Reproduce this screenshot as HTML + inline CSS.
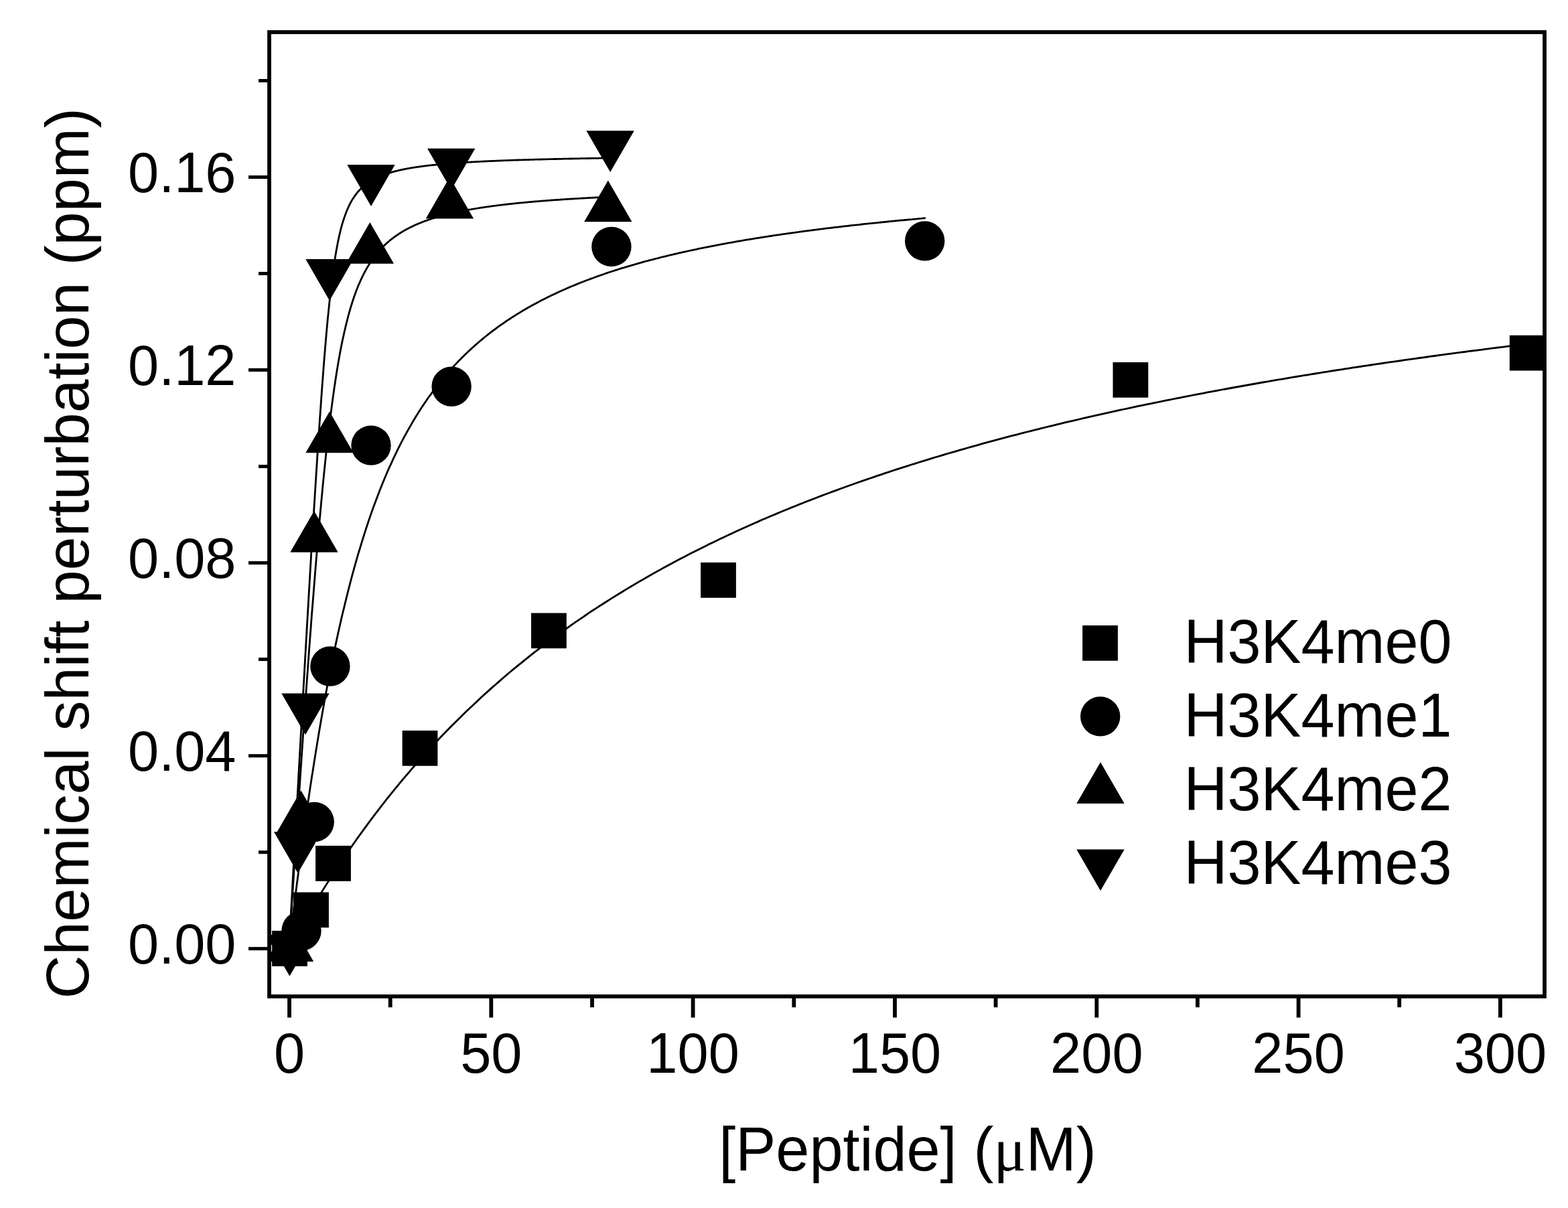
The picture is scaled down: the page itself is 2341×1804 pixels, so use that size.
<!DOCTYPE html>
<html><head><meta charset="utf-8"><style>html,body{margin:0;padding:0;background:#fff}svg{display:block}text{font-family:"Liberation Sans",Arial,sans-serif;fill:#000}</style></head><body>
<svg width="2341" height="1804" viewBox="0 0 2341 1804">
<rect width="2341" height="1804" fill="#fff"/>
<defs><clipPath id="c"><rect x="402" y="48" width="1904" height="1440"/></clipPath></defs>
<g clip-path="url(#c)">
<g fill="none" stroke="#000" stroke-width="2.8" stroke-linejoin="round">
<polyline points="431.6,1415.8 432.2,1404.7 432.8,1393.7 433.4,1382.6 434.0,1371.6 434.6,1360.6 435.2,1349.5 435.8,1338.5 436.4,1327.5 437.0,1316.5 437.6,1305.5 438.2,1294.6 438.8,1283.6 439.4,1272.6 440.0,1261.7 440.6,1250.7 441.2,1239.8 441.8,1228.9 442.4,1218.0 443.0,1207.1 443.7,1196.2 444.3,1185.3 444.9,1174.5 445.5,1163.6 446.1,1152.8 446.7,1142.0 447.3,1131.1 447.9,1120.4 448.5,1109.6 449.1,1098.8 449.7,1088.1 450.3,1077.4 450.9,1066.6 451.5,1055.9 452.1,1045.3 452.7,1034.6 453.3,1024.0 453.9,1013.4 454.5,1002.8 455.1,992.2 455.7,981.7 456.3,971.1 456.9,960.6 457.5,950.2 458.1,939.7 458.7,929.3 459.3,918.9 459.9,908.5 460.5,898.2 461.1,887.9 461.7,877.6 462.3,867.4 462.9,857.2 463.5,847.0 464.1,836.9 464.7,826.8 465.3,816.8 465.9,806.8 466.6,796.8 467.2,786.9 467.8,777.1 468.4,767.2 469.0,757.5 469.6,747.8 470.2,738.1 470.8,728.5 471.4,719.0 472.0,709.5 472.6,700.1 473.2,690.8 473.8,681.5 474.4,672.3 475.0,663.2 475.6,654.2 476.2,645.2 476.8,636.3 477.4,627.5 478.0,618.9 478.6,610.3 479.2,601.8 479.8,593.4 480.4,585.1 481.0,576.9 481.6,568.8 482.2,560.8 482.8,553.0 483.4,545.2 484.0,537.6 484.6,530.2 485.2,522.8 485.8,515.6 486.4,508.5 487.0,501.6 487.6,494.7 488.2,488.1 488.8,481.5 489.4,475.2 490.1,468.9 490.7,462.8 491.3,456.9 491.9,451.1 492.5,445.5 493.1,440.0 493.7,434.6 494.3,429.4 494.9,424.4 495.5,419.4 496.1,414.7 496.7,410.0 497.3,405.6 497.9,401.2 498.5,397.0 499.1,392.9 499.7,388.9 500.3,385.1 500.9,381.4 501.5,377.8 502.1,374.3 502.7,371.0 503.3,367.7 503.9,364.6 504.5,361.5 505.1,358.6 505.7,355.7 506.3,353.0 506.9,350.3 507.5,347.8 508.1,345.3 508.7,342.9 509.3,340.5 509.9,338.3 510.5,336.1 511.1,334.0 511.7,332.0 512.3,330.0 513.0,328.1 513.6,326.2 514.2,324.4 514.8,322.7 515.4,321.0 516.0,319.4 516.6,317.8 517.2,316.3 517.8,314.8 518.4,313.3 519.0,311.9 519.6,310.6 520.2,309.2 520.8,307.9 521.4,306.7 522.0,305.5 522.6,304.3 523.2,303.2 523.8,302.0 524.4,301.0 525.0,299.9 525.6,298.9 526.2,297.9 526.8,296.9 527.4,296.0 528.0,295.0 528.6,294.1 529.2,293.3 529.8,292.4 530.4,291.6 531.0,290.7 531.6,290.0 532.2,289.2 532.8,288.4 533.4,287.7 534.0,287.0 534.6,286.2 535.2,285.6 535.8,284.9 536.5,284.2 537.1,283.6 537.7,283.0 538.3,282.3 538.9,281.7 539.5,281.1 540.1,280.6 540.7,280.0 541.3,279.5 541.9,278.9 542.5,278.4 543.1,277.9 543.7,277.4 544.3,276.9 544.9,276.4 545.5,275.9 546.1,275.4 546.7,275.0 547.3,274.5 547.9,274.1 548.5,273.6 549.1,273.2 549.7,272.8 550.3,272.4 550.9,272.0 551.5,271.6 552.1,271.2 552.7,270.8 553.3,270.4 553.9,270.1 554.5,269.7 555.1,269.3 555.7,269.0 556.3,268.6 556.9,268.3 557.5,268.0 558.1,267.6 558.7,267.3 559.4,267.0 560.0,266.7 560.6,266.4 561.2,266.1 561.8,265.8 562.4,265.5 563.0,265.2 563.6,264.9 564.2,264.7 564.8,264.4 565.4,264.1 566.0,263.8 566.6,263.6 567.2,263.3 567.8,263.1 568.4,262.8 569.0,262.6 569.6,262.3 570.2,262.1 570.8,261.9 571.4,261.6 572.0,261.4 572.6,261.2 573.2,260.9 573.8,260.7 574.4,260.5 575.0,260.3 575.6,260.1 576.2,259.9 576.8,259.7 577.4,259.5 578.0,259.3 578.6,259.1 579.2,258.9 579.8,258.7 580.4,258.5 581.0,258.3 581.6,258.1 582.2,257.9 582.9,257.8 583.5,257.6 584.1,257.4 584.7,257.2 585.3,257.1 585.9,256.9 586.5,256.7 587.1,256.6 587.7,256.4 588.3,256.2 588.9,256.1 589.5,255.9 590.1,255.8 590.7,255.6 591.3,255.5 591.9,255.3 592.5,255.2 593.1,255.0 593.7,254.9 594.3,254.7 594.9,254.6 595.5,254.4 596.1,254.3 596.7,254.2 597.3,254.0 597.9,253.9 598.5,253.8 599.1,253.6 599.7,253.5 600.3,253.4 600.9,253.2 601.5,253.1 602.1,253.0 602.7,252.9 603.3,252.8 603.9,252.6 604.5,252.5 605.1,252.4 605.8,252.3 606.4,252.2 607.0,252.0 607.6,251.9 608.2,251.8 608.8,251.7 609.4,251.6 610.0,251.5 610.6,251.4 611.2,251.3 611.8,251.2 612.4,251.1 613.4,250.9 614.4,250.7 615.4,250.6 616.4,250.4 617.4,250.2 618.4,250.1 619.4,249.9 620.4,249.8 621.4,249.6 622.4,249.5 623.4,249.3 624.4,249.2 625.3,249.0 626.3,248.9 627.3,248.8 628.3,248.6 629.3,248.5 630.3,248.4 631.3,248.2 632.3,248.1 633.3,248.0 634.3,247.8 635.3,247.7 636.3,247.6 637.3,247.5 638.3,247.4 639.3,247.2 640.3,247.1 641.3,247.0 642.3,246.9 643.3,246.8 644.3,246.7 645.3,246.6 646.3,246.5 647.3,246.4 648.3,246.3 649.3,246.2 650.3,246.1 651.3,246.0 652.3,245.9 653.3,245.8 654.3,245.7 655.3,245.6 656.3,245.5 657.3,245.4 658.3,245.3 659.3,245.2 660.3,245.1 661.3,245.0 662.3,244.9 663.3,244.8 664.3,244.8 665.3,244.7 666.3,244.6 667.2,244.5 668.2,244.4 669.2,244.3 670.2,244.3 671.2,244.2 672.2,244.1 673.2,244.0 674.2,243.9 675.2,243.9 676.2,243.8 677.2,243.7 678.2,243.6 679.2,243.6 680.2,243.5 681.2,243.4 682.2,243.4 683.2,243.3 684.2,243.2 685.2,243.1 686.2,243.1 687.2,243.0 688.2,242.9 689.2,242.9 690.2,242.8 691.2,242.8 692.2,242.7 693.2,242.6 694.2,242.6 695.2,242.5 696.2,242.4 697.2,242.4 698.2,242.3 699.2,242.3 700.2,242.2 701.2,242.1 702.2,242.1 703.2,242.0 704.2,242.0 705.2,241.9 706.2,241.9 707.2,241.8 708.2,241.7 709.1,241.7 710.1,241.6 711.1,241.6 712.1,241.5 713.1,241.5 714.1,241.4 715.1,241.4 716.1,241.3 717.1,241.3 718.1,241.2 719.1,241.2 720.1,241.1 721.1,241.1 722.1,241.0 723.1,241.0 724.1,240.9 725.1,240.9 726.1,240.8 727.1,240.8 728.1,240.7 729.1,240.7 730.1,240.7 731.1,240.6 732.1,240.6 733.1,240.5 734.1,240.5 735.1,240.4 736.1,240.4 737.1,240.3 738.1,240.3 739.1,240.3 740.1,240.2 741.1,240.2 742.1,240.1 743.1,240.1 744.1,240.1 745.1,240.0 746.1,240.0 747.1,239.9 748.1,239.9 749.1,239.9 750.1,239.8 751.0,239.8 752.0,239.7 753.0,239.7 754.0,239.7 755.0,239.6 756.0,239.6 757.0,239.6 758.0,239.5 759.0,239.5 760.0,239.5 761.0,239.4 762.0,239.4 763.0,239.3 764.0,239.3 765.0,239.3 766.0,239.2 767.0,239.2 768.0,239.2 769.0,239.1 770.0,239.1 771.0,239.1 772.0,239.0 773.0,239.0 774.0,239.0 775.0,238.9 776.0,238.9 777.0,238.9 778.0,238.9 779.0,238.8 780.0,238.8 781.0,238.8 782.0,238.7 783.0,238.7 784.0,238.7 785.0,238.6 786.0,238.6 787.0,238.6 788.0,238.6 789.0,238.5 790.0,238.5 791.0,238.5 792.0,238.4 792.9,238.4 793.9,238.4 794.9,238.4 795.9,238.3 796.9,238.3 797.9,238.3 798.9,238.2 799.9,238.2 800.9,238.2 801.9,238.2 802.9,238.1 803.9,238.1 804.9,238.1 805.9,238.1 806.9,238.0 807.9,238.0 808.9,238.0 809.9,238.0 810.9,237.9 811.9,237.9 812.9,237.9 813.9,237.9 814.9,237.8 815.9,237.8 816.9,237.8 817.9,237.8 818.9,237.7 819.9,237.7 820.9,237.7 821.9,237.7 822.9,237.6 823.9,237.6 824.9,237.6 825.9,237.6 826.9,237.5 827.9,237.5 828.9,237.5 829.9,237.5 830.9,237.5 831.9,237.4 832.9,237.4 833.9,237.4 834.8,237.4 835.8,237.3 836.8,237.3 837.8,237.3 838.8,237.3 839.8,237.3 840.8,237.2 841.8,237.2 842.8,237.2 843.8,237.2 844.8,237.2 845.8,237.1 846.8,237.1 847.8,237.1 848.8,237.1 849.8,237.0 850.8,237.0 851.8,237.0 852.8,237.0 853.8,237.0 854.8,237.0 855.8,236.9 856.8,236.9 857.8,236.9 858.8,236.9 859.8,236.9 860.8,236.8 861.8,236.8 862.8,236.8 863.8,236.8 864.8,236.8 865.8,236.7 866.8,236.7 867.8,236.7 868.8,236.7 869.8,236.7 870.8,236.7 871.8,236.6 872.8,236.6 873.8,236.6 874.8,236.6 875.8,236.6 876.7,236.5 877.7,236.5 878.7,236.5 879.7,236.5 880.7,236.5 881.7,236.5 882.7,236.4 883.7,236.4 884.7,236.4 885.7,236.4 886.7,236.4 887.7,236.4 888.7,236.3 889.7,236.3 890.7,236.3 891.7,236.3 892.7,236.3 893.7,236.3 894.7,236.2 895.7,236.2 896.7,236.2 897.7,236.2 898.7,236.2 899.7,236.2 900.7,236.2 901.7,236.1 902.7,236.1 903.7,236.1 904.7,236.1 905.7,236.1 906.7,236.1 907.7,236.0 908.7,236.0 909.7,236.0 910.7,236.0"/>
<polyline points="431.6,1415.8 432.2,1406.3 432.8,1396.8 433.4,1387.3 434.0,1377.8 434.6,1368.4 435.2,1358.9 435.8,1349.5 436.4,1340.1 437.0,1330.8 437.6,1321.4 438.2,1312.1 438.8,1302.7 439.4,1293.4 440.0,1284.2 440.6,1274.9 441.2,1265.7 441.8,1256.5 442.4,1247.3 443.0,1238.1 443.7,1229.0 444.3,1219.8 444.9,1210.8 445.5,1201.7 446.1,1192.6 446.7,1183.6 447.3,1174.6 447.9,1165.7 448.5,1156.7 449.1,1147.8 449.7,1138.9 450.3,1130.1 450.9,1121.3 451.5,1112.5 452.1,1103.7 452.7,1095.0 453.3,1086.3 453.9,1077.7 454.5,1069.0 455.1,1060.4 455.7,1051.9 456.3,1043.4 456.9,1034.9 457.5,1026.4 458.1,1018.0 458.7,1009.7 459.3,1001.4 459.9,993.1 460.5,984.8 461.1,976.6 461.7,968.5 462.3,960.4 462.9,952.3 463.5,944.3 464.1,936.3 464.7,928.4 465.3,920.5 465.9,912.7 466.6,904.9 467.2,897.2 467.8,889.5 468.4,881.9 469.0,874.3 469.6,866.8 470.2,859.3 470.8,851.9 471.4,844.6 472.0,837.3 472.6,830.0 473.2,822.9 473.8,815.8 474.4,808.7 475.0,801.7 475.6,794.8 476.2,788.0 476.8,781.2 477.4,774.4 478.0,767.8 478.6,761.2 479.2,754.6 479.8,748.2 480.4,741.8 481.0,735.5 481.6,729.2 482.2,723.0 482.8,716.9 483.4,710.9 484.0,704.9 484.6,699.0 485.2,693.2 485.8,687.4 486.4,681.7 487.0,676.1 487.6,670.6 488.2,665.1 488.8,659.8 489.4,654.4 490.1,649.2 490.7,644.0 491.3,638.9 491.9,633.9 492.5,629.0 493.1,624.1 493.7,619.3 494.3,614.6 494.9,609.9 495.5,605.3 496.1,600.8 496.7,596.4 497.3,592.0 497.9,587.7 498.5,583.5 499.1,579.3 499.7,575.2 500.3,571.2 500.9,567.2 501.5,563.3 502.1,559.5 502.7,555.7 503.3,552.0 503.9,548.4 504.5,544.8 505.1,541.3 505.7,537.8 506.3,534.4 506.9,531.1 507.5,527.8 508.1,524.6 508.7,521.5 509.3,518.3 509.9,515.3 510.5,512.3 511.1,509.4 511.7,506.5 512.3,503.6 513.0,500.8 513.6,498.1 514.2,495.4 514.8,492.8 515.4,490.2 516.0,487.6 516.6,485.1 517.2,482.7 517.8,480.3 518.4,477.9 519.0,475.6 519.6,473.3 520.2,471.0 520.8,468.8 521.4,466.7 522.0,464.5 522.6,462.5 523.2,460.4 523.8,458.4 524.4,456.4 525.0,454.5 525.6,452.5 526.2,450.7 526.8,448.8 527.4,447.0 528.0,445.2 528.6,443.4 529.2,441.7 529.8,440.0 530.4,438.4 531.0,436.7 531.6,435.1 532.2,433.5 532.8,432.0 533.4,430.4 534.0,428.9 534.6,427.4 535.2,426.0 535.8,424.6 536.5,423.1 537.1,421.8 537.7,420.4 538.3,419.0 538.9,417.7 539.5,416.4 540.1,415.1 540.7,413.9 541.3,412.6 541.9,411.4 542.5,410.2 543.1,409.0 543.7,407.9 544.3,406.7 544.9,405.6 545.5,404.5 546.1,403.4 546.7,402.3 547.3,401.2 547.9,400.2 548.5,399.2 549.1,398.1 549.7,397.1 550.3,396.2 550.9,395.2 551.5,394.2 552.1,393.3 552.7,392.3 553.3,391.4 553.9,390.5 554.5,389.6 555.1,388.7 555.7,387.9 556.3,387.0 556.9,386.2 557.5,385.3 558.1,384.5 558.7,383.7 559.4,382.9 560.0,382.1 560.6,381.4 561.2,380.6 561.8,379.8 562.4,379.1 563.0,378.3 563.6,377.6 564.2,376.9 564.8,376.2 565.4,375.5 566.0,374.8 566.6,374.1 567.2,373.4 567.8,372.8 568.4,372.1 569.0,371.5 569.6,370.8 570.2,370.2 570.8,369.6 571.4,368.9 572.0,368.3 572.6,367.7 573.2,367.1 573.8,366.6 574.4,366.0 575.0,365.4 575.6,364.8 576.2,364.3 576.8,363.7 577.4,363.2 578.0,362.6 578.6,362.1 579.2,361.6 579.8,361.0 580.4,360.5 581.0,360.0 581.6,359.5 582.2,359.0 582.9,358.5 583.5,358.0 584.1,357.5 584.7,357.1 585.3,356.6 585.9,356.1 586.5,355.7 587.1,355.2 587.7,354.7 588.3,354.3 588.9,353.9 589.5,353.4 590.1,353.0 590.7,352.6 591.3,352.1 591.9,351.7 592.5,351.3 593.1,350.9 593.7,350.5 594.3,350.1 594.9,349.7 595.5,349.3 596.1,348.9 596.7,348.5 597.3,348.1 597.9,347.7 598.5,347.4 599.1,347.0 599.7,346.6 600.3,346.2 600.9,345.9 601.5,345.5 602.1,345.2 602.7,344.8 603.3,344.5 603.9,344.1 604.5,343.8 605.1,343.5 605.8,343.1 606.4,342.8 607.0,342.5 607.6,342.1 608.2,341.8 608.8,341.5 609.4,341.2 610.0,340.9 610.6,340.5 611.2,340.2 611.8,339.9 612.4,339.6 613.4,339.1 614.4,338.7 615.3,338.2 616.3,337.7 617.3,337.2 618.3,336.8 619.3,336.3 620.3,335.9 621.3,335.5 622.3,335.0 623.2,334.6 624.2,334.2 625.2,333.8 626.2,333.4 627.2,333.0 628.2,332.6 629.2,332.2 630.2,331.8 631.1,331.4 632.1,331.0 633.1,330.7 634.1,330.3 635.1,329.9 636.1,329.6 637.1,329.2 638.1,328.9 639.0,328.5 640.0,328.2 641.0,327.8 642.0,327.5 643.0,327.2 644.0,326.9 645.0,326.5 646.0,326.2 646.9,325.9 647.9,325.6 648.9,325.3 649.9,325.0 650.9,324.7 651.9,324.4 652.9,324.1 653.9,323.8 654.8,323.5 655.8,323.2 656.8,323.0 657.8,322.7 658.8,322.4 659.8,322.1 660.8,321.9 661.8,321.6 662.7,321.4 663.7,321.1 664.7,320.8 665.7,320.6 666.7,320.3 667.7,320.1 668.7,319.8 669.7,319.6 670.6,319.4 671.6,319.1 672.6,318.9 673.6,318.7 674.6,318.4 675.6,318.2 676.6,318.0 677.6,317.8 678.5,317.5 679.5,317.3 680.5,317.1 681.5,316.9 682.5,316.7 683.5,316.5 684.5,316.3 685.5,316.1 686.4,315.9 687.4,315.6 688.4,315.4 689.4,315.3 690.4,315.1 691.4,314.9 692.4,314.7 693.4,314.5 694.3,314.3 695.3,314.1 696.3,313.9 697.3,313.7 698.3,313.5 699.3,313.4 700.3,313.2 701.3,313.0 702.2,312.8 703.2,312.7 704.2,312.5 705.2,312.3 706.2,312.2 707.2,312.0 708.2,311.8 709.2,311.7 710.1,311.5 711.1,311.3 712.1,311.2 713.1,311.0 714.1,310.8 715.1,310.7 716.1,310.5 717.1,310.4 718.0,310.2 719.0,310.1 720.0,309.9 721.0,309.8 722.0,309.6 723.0,309.5 724.0,309.3 725.0,309.2 725.9,309.1 726.9,308.9 727.9,308.8 728.9,308.6 729.9,308.5 730.9,308.4 731.9,308.2 732.9,308.1 733.8,308.0 734.8,307.8 735.8,307.7 736.8,307.6 737.8,307.4 738.8,307.3 739.8,307.2 740.8,307.0 741.7,306.9 742.7,306.8 743.7,306.7 744.7,306.5 745.7,306.4 746.7,306.3 747.7,306.2 748.7,306.1 749.6,305.9 750.6,305.8 751.6,305.7 752.6,305.6 753.6,305.5 754.6,305.4 755.6,305.2 756.6,305.1 757.5,305.0 758.5,304.9 759.5,304.8 760.5,304.7 761.5,304.6 762.5,304.5 763.5,304.4 764.5,304.3 765.4,304.2 766.4,304.1 767.4,304.0 768.4,303.8 769.4,303.7 770.4,303.6 771.4,303.5 772.4,303.4 773.3,303.3 774.3,303.2 775.3,303.1 776.3,303.0 777.3,302.9 778.3,302.9 779.3,302.8 780.3,302.7 781.2,302.6 782.2,302.5 783.2,302.4 784.2,302.3 785.2,302.2 786.2,302.1 787.2,302.0 788.2,301.9 789.1,301.8 790.1,301.7 791.1,301.7 792.1,301.6 793.1,301.5 794.1,301.4 795.1,301.3 796.1,301.2 797.0,301.1 798.0,301.0 799.0,301.0 800.0,300.9 801.0,300.8 802.0,300.7 803.0,300.6 804.0,300.6 805.0,300.5 805.9,300.4 806.9,300.3 807.9,300.2 808.9,300.2 809.9,300.1 810.9,300.0 811.9,299.9 812.9,299.8 813.8,299.8 814.8,299.7 815.8,299.6 816.8,299.5 817.8,299.5 818.8,299.4 819.8,299.3 820.8,299.2 821.7,299.2 822.7,299.1 823.7,299.0 824.7,298.9 825.7,298.9 826.7,298.8 827.7,298.7 828.7,298.7 829.6,298.6 830.6,298.5 831.6,298.5 832.6,298.4 833.6,298.3 834.6,298.3 835.6,298.2 836.6,298.1 837.5,298.0 838.5,298.0 839.5,297.9 840.5,297.9 841.5,297.8 842.5,297.7 843.5,297.7 844.5,297.6 845.4,297.5 846.4,297.5 847.4,297.4 848.4,297.3 849.4,297.3 850.4,297.2 851.4,297.2 852.4,297.1 853.3,297.0 854.3,297.0 855.3,296.9 856.3,296.8 857.3,296.8 858.3,296.7 859.3,296.7 860.3,296.6 861.2,296.6 862.2,296.5 863.2,296.4 864.2,296.4 865.2,296.3 866.2,296.3 867.2,296.2 868.2,296.2 869.1,296.1 870.1,296.0 871.1,296.0 872.1,295.9 873.1,295.9 874.1,295.8 875.1,295.8 876.1,295.7 877.0,295.7 878.0,295.6 879.0,295.5 880.0,295.5 881.0,295.4 882.0,295.4 883.0,295.3 884.0,295.3 884.9,295.2 885.9,295.2 886.9,295.1 887.9,295.1 888.9,295.0 889.9,295.0 890.9,294.9 891.9,294.9 892.8,294.8 893.8,294.8 894.8,294.7 895.8,294.7 896.8,294.6 897.8,294.6 898.8,294.5 899.8,294.5 900.7,294.4 901.7,294.4 902.7,294.3 903.7,294.3 904.7,294.2 905.7,294.2 906.7,294.2 907.7,294.1"/>
<polyline points="431.6,1415.8 432.2,1410.6 432.8,1405.5 433.4,1400.4 434.0,1395.3 434.6,1390.3 435.2,1385.2 435.8,1380.2 436.4,1375.2 437.0,1370.2 437.6,1365.3 438.2,1360.4 438.8,1355.5 439.4,1350.6 440.0,1345.7 440.6,1340.9 441.2,1336.1 441.8,1331.3 442.4,1326.5 443.0,1321.8 443.7,1317.0 444.3,1312.3 444.9,1307.7 445.5,1303.0 446.1,1298.4 446.7,1293.8 447.3,1289.2 447.9,1284.6 448.5,1280.1 449.1,1275.5 449.7,1271.0 450.3,1266.6 450.9,1262.1 451.5,1257.7 452.1,1253.3 452.7,1248.9 453.3,1244.5 453.9,1240.2 454.5,1235.9 455.1,1231.6 455.7,1227.3 456.3,1223.0 456.9,1218.8 457.5,1214.6 458.1,1210.4 458.7,1206.2 459.3,1202.1 459.9,1197.9 460.5,1193.8 461.1,1189.7 461.7,1185.7 462.3,1181.6 462.9,1177.6 463.5,1173.6 464.1,1169.6 464.7,1165.7 465.3,1161.7 465.9,1157.8 466.6,1153.9 467.2,1150.0 467.8,1146.2 468.4,1142.3 469.0,1138.5 469.6,1134.7 470.2,1131.0 470.8,1127.2 471.4,1123.5 472.0,1119.8 472.6,1116.1 473.2,1112.4 473.8,1108.7 474.4,1105.1 475.0,1101.5 475.6,1097.9 476.2,1094.3 476.8,1090.8 477.4,1087.2 478.0,1083.7 478.6,1080.2 479.2,1076.8 479.8,1073.3 480.4,1069.9 481.0,1066.4 481.6,1063.0 482.2,1059.7 482.8,1056.3 483.4,1052.9 484.0,1049.6 484.6,1046.3 485.2,1043.0 485.8,1039.8 486.4,1036.5 487.0,1033.3 487.6,1030.0 488.2,1026.8 488.8,1023.7 489.4,1020.5 490.1,1017.4 490.7,1014.2 491.3,1011.1 491.9,1008.0 492.5,1005.0 493.1,1001.9 493.7,998.9 494.3,995.8 494.9,992.8 495.5,989.8 496.1,986.9 496.7,983.9 497.3,981.0 497.9,978.1 498.5,975.2 499.1,972.3 499.7,969.4 500.3,966.5 500.9,963.7 501.5,960.9 502.1,958.1 502.7,955.3 503.3,952.5 503.9,949.7 504.5,947.0 505.1,944.3 505.7,941.5 506.3,938.9 506.9,936.2 507.5,933.5 508.1,930.8 508.7,928.2 509.3,925.6 509.9,923.0 510.5,920.4 511.1,917.8 511.7,915.3 512.3,912.7 513.0,910.2 513.6,907.7 514.2,905.1 514.8,902.7 515.4,900.2 516.0,897.7 516.6,895.3 517.2,892.8 517.8,890.4 518.4,888.0 519.0,885.6 519.6,883.2 520.2,880.9 520.8,878.5 521.4,876.2 522.0,873.9 522.6,871.5 523.2,869.2 523.8,867.0 524.4,864.7 525.0,862.4 525.6,860.2 526.2,857.9 526.8,855.7 527.4,853.5 528.0,851.3 528.6,849.1 529.2,847.0 529.8,844.8 530.4,842.6 531.0,840.5 531.6,838.4 532.2,836.3 532.8,834.2 533.4,832.1 534.0,830.0 534.6,827.9 535.2,825.9 535.8,823.8 536.5,821.8 537.1,819.8 537.7,817.8 538.3,815.8 538.9,813.8 539.5,811.8 540.1,809.9 540.7,807.9 541.3,806.0 541.9,804.0 542.5,802.1 543.1,800.2 543.7,798.3 544.3,796.4 544.9,794.6 545.5,792.7 546.1,790.8 546.7,789.0 547.3,787.1 547.9,785.3 548.5,783.5 549.1,781.7 549.7,779.9 550.3,778.1 550.9,776.3 551.5,774.6 552.1,772.8 552.7,771.1 553.3,769.3 553.9,767.6 554.5,765.9 555.1,764.2 555.7,762.5 556.3,760.8 556.9,759.1 557.5,757.4 558.1,755.8 558.7,754.1 559.4,752.5 560.0,750.8 560.6,749.2 561.2,747.6 561.8,746.0 562.4,744.4 563.0,742.8 563.6,741.2 564.2,739.6 564.8,738.0 565.4,736.5 566.0,734.9 566.6,733.4 567.2,731.8 567.8,730.3 568.4,728.8 569.0,727.3 569.6,725.8 570.2,724.3 570.8,722.8 571.4,721.3 572.0,719.8 572.6,718.4 573.2,716.9 573.8,715.5 574.4,714.0 575.0,712.6 575.6,711.2 576.2,709.8 576.8,708.3 577.4,706.9 578.0,705.5 578.6,704.2 579.2,702.8 579.8,701.4 580.4,700.0 581.0,698.7 581.6,697.3 582.2,696.0 582.9,694.6 583.5,693.3 584.1,692.0 584.7,690.6 585.3,689.3 585.9,688.0 586.5,686.7 587.1,685.4 587.7,684.1 588.3,682.9 588.9,681.6 589.5,680.3 590.1,679.1 590.7,677.8 591.3,676.6 591.9,675.3 592.5,674.1 593.1,672.9 593.7,671.6 594.3,670.4 594.9,669.2 595.5,668.0 596.1,666.8 596.7,665.6 597.3,664.4 597.9,663.2 598.5,662.1 599.1,660.9 599.7,659.7 600.3,658.6 600.9,657.4 601.5,656.3 602.1,655.1 602.7,654.0 603.3,652.9 603.9,651.7 604.5,650.6 605.1,649.5 605.8,648.4 606.4,647.3 607.0,646.2 607.6,645.1 608.2,644.0 608.8,642.9 609.4,641.9 610.0,640.8 610.6,639.7 611.2,638.7 611.8,637.6 612.4,636.6 615.0,632.1 617.5,627.8 620.1,623.5 622.7,619.3 625.2,615.3 627.8,611.2 630.4,607.3 633.0,603.4 635.5,599.7 638.1,595.9 640.7,592.3 643.3,588.7 645.8,585.2 648.4,581.8 651.0,578.4 653.6,575.1 656.1,571.8 658.7,568.6 661.3,565.5 663.9,562.4 666.4,559.3 669.0,556.4 671.6,553.4 674.1,550.6 676.7,547.7 679.3,544.9 681.9,542.2 684.4,539.5 687.0,536.9 689.6,534.3 692.2,531.7 694.7,529.2 697.3,526.7 699.9,524.3 702.5,521.9 705.0,519.5 707.6,517.2 710.2,514.9 712.8,512.7 715.3,510.5 717.9,508.3 720.5,506.2 723.0,504.0 725.6,502.0 728.2,499.9 730.8,497.9 733.3,495.9 735.9,493.9 738.5,492.0 741.1,490.1 743.6,488.2 746.2,486.4 748.8,484.5 751.4,482.8 753.9,481.0 756.5,479.2 759.1,477.5 761.7,475.8 764.2,474.1 766.8,472.5 769.4,470.9 771.9,469.2 774.5,467.7 777.1,466.1 779.7,464.5 782.2,463.0 784.8,461.5 787.4,460.0 790.0,458.6 792.5,457.1 795.1,455.7 797.7,454.3 800.3,452.9 802.8,451.5 805.4,450.2 808.0,448.8 810.6,447.5 813.1,446.2 815.7,444.9 818.3,443.6 820.8,442.4 823.4,441.1 826.0,439.9 828.6,438.7 831.1,437.5 833.7,436.3 836.3,435.1 838.9,433.9 841.4,432.8 844.0,431.7 846.6,430.5 849.2,429.4 851.7,428.3 854.3,427.3 856.9,426.2 859.5,425.1 862.0,424.1 864.6,423.0 867.2,422.0 869.7,421.0 872.3,420.0 874.9,419.0 877.5,418.0 880.0,417.1 882.6,416.1 885.2,415.2 887.8,414.2 890.3,413.3 892.9,412.4 895.5,411.5 898.1,410.6 900.6,409.7 903.2,408.8 905.8,407.9 908.3,407.0 910.9,406.2 913.5,405.3 916.1,404.5 918.6,403.7 921.2,402.9 923.8,402.0 926.4,401.2 928.9,400.4 931.5,399.7 934.1,398.9 936.7,398.1 939.2,397.3 941.8,396.6 944.4,395.8 947.0,395.1 949.5,394.3 952.1,393.6 954.7,392.9 957.2,392.2 959.8,391.4 962.4,390.7 965.0,390.0 967.5,389.4 970.1,388.7 972.7,388.0 975.3,387.3 977.8,386.6 980.4,386.0 983.0,385.3 985.6,384.7 988.1,384.0 990.7,383.4 993.3,382.8 995.9,382.1 998.4,381.5 1001.0,380.9 1003.6,380.3 1006.1,379.7 1008.7,379.1 1011.3,378.5 1013.9,377.9 1016.4,377.3 1019.0,376.7 1021.6,376.2 1024.2,375.6 1026.7,375.0 1029.3,374.5 1031.9,373.9 1034.5,373.4 1037.0,372.8 1039.6,372.3 1042.2,371.7 1044.8,371.2 1047.3,370.7 1049.9,370.1 1052.5,369.6 1055.0,369.1 1057.6,368.6 1060.2,368.1 1062.8,367.6 1065.3,367.1 1067.9,366.6 1070.5,366.1 1073.1,365.6 1075.6,365.1 1078.2,364.6 1080.8,364.1 1083.4,363.7 1085.9,363.2 1088.5,362.7 1091.1,362.3 1093.7,361.8 1096.2,361.4 1098.8,360.9 1101.4,360.4 1103.9,360.0 1106.5,359.6 1109.1,359.1 1111.7,358.7 1114.2,358.2 1116.8,357.8 1119.4,357.4 1122.0,357.0 1124.5,356.5 1127.1,356.1 1129.7,355.7 1132.3,355.3 1134.8,354.9 1137.4,354.5 1140.0,354.1 1142.6,353.7 1145.1,353.3 1147.7,352.9 1150.3,352.5 1152.8,352.1 1155.4,351.7 1158.0,351.3 1160.6,350.9 1163.1,350.6 1165.7,350.2 1168.3,349.8 1170.9,349.4 1173.4,349.1 1176.0,348.7 1178.6,348.3 1181.2,348.0 1183.7,347.6 1186.3,347.3 1188.9,346.9 1191.5,346.6 1194.0,346.2 1196.6,345.9 1199.2,345.5 1201.7,345.2 1204.3,344.8 1206.9,344.5 1209.5,344.2 1212.0,343.8 1214.6,343.5 1217.2,343.2 1219.8,342.8 1222.3,342.5 1224.9,342.2 1227.5,341.9 1230.1,341.5 1232.6,341.2 1235.2,340.9 1237.8,340.6 1240.3,340.3 1242.9,340.0 1245.5,339.7 1248.1,339.4 1250.6,339.1 1253.2,338.8 1255.8,338.5 1258.4,338.2 1260.9,337.9 1263.5,337.6 1266.1,337.3 1268.7,337.0 1271.2,336.7 1273.8,336.4 1276.4,336.1 1279.0,335.8 1281.5,335.6 1284.1,335.3 1286.7,335.0 1289.2,334.7 1291.8,334.4 1294.4,334.2 1297.0,333.9 1299.5,333.6 1302.1,333.4 1304.7,333.1 1307.3,332.8 1309.8,332.6 1312.4,332.3 1315.0,332.0 1317.6,331.8 1320.1,331.5 1322.7,331.3 1325.3,331.0 1327.9,330.7 1330.4,330.5 1333.0,330.2 1335.6,330.0 1338.1,329.7 1340.7,329.5 1343.3,329.2 1345.9,329.0 1348.4,328.8 1351.0,328.5 1353.6,328.3 1356.2,328.0 1358.7,327.8 1361.3,327.6 1363.9,327.3 1366.5,327.1 1369.0,326.9 1371.6,326.6 1374.2,326.4 1376.8,326.2 1379.3,325.9 1381.9,325.7"/>
<polyline points="431.6,1415.8 432.2,1414.7 432.8,1413.6 433.4,1412.5 434.0,1411.4 434.6,1410.3 435.2,1409.2 435.8,1408.1 436.4,1407.0 437.0,1405.9 437.6,1404.8 438.2,1403.8 438.8,1402.7 439.4,1401.6 440.0,1400.5 440.6,1399.4 441.2,1398.3 441.8,1397.3 442.4,1396.2 443.0,1395.1 443.7,1394.1 444.3,1393.0 444.9,1391.9 445.5,1390.8 446.1,1389.8 446.7,1388.7 447.3,1387.7 447.9,1386.6 448.5,1385.5 449.1,1384.5 449.7,1383.4 450.3,1382.4 450.9,1381.3 451.5,1380.3 452.1,1379.2 452.7,1378.2 453.3,1377.2 453.9,1376.1 454.5,1375.1 455.1,1374.0 455.7,1373.0 456.3,1372.0 456.9,1370.9 457.5,1369.9 458.1,1368.9 458.7,1367.8 459.3,1366.8 459.9,1365.8 460.5,1364.8 461.1,1363.7 461.7,1362.7 462.3,1361.7 462.9,1360.7 463.5,1359.7 464.1,1358.7 464.7,1357.6 465.3,1356.6 465.9,1355.6 466.6,1354.6 467.2,1353.6 467.8,1352.6 468.4,1351.6 469.0,1350.6 469.6,1349.6 470.2,1348.6 470.8,1347.6 471.4,1346.6 472.0,1345.6 472.6,1344.6 473.2,1343.7 473.8,1342.7 474.4,1341.7 475.0,1340.7 475.6,1339.7 476.2,1338.7 476.8,1337.7 477.4,1336.8 478.0,1335.8 478.6,1334.8 479.2,1333.8 479.8,1332.9 480.4,1331.9 481.0,1330.9 481.6,1330.0 482.2,1329.0 482.8,1328.0 483.4,1327.1 484.0,1326.1 484.6,1325.1 485.2,1324.2 485.8,1323.2 486.4,1322.3 487.0,1321.3 487.6,1320.4 488.2,1319.4 488.8,1318.5 489.4,1317.5 490.1,1316.6 490.7,1315.6 491.3,1314.7 491.9,1313.7 492.5,1312.8 493.1,1311.9 493.7,1310.9 494.3,1310.0 494.9,1309.0 495.5,1308.1 496.1,1307.2 496.7,1306.2 497.3,1305.3 497.9,1304.4 498.5,1303.5 499.1,1302.5 499.7,1301.6 500.3,1300.7 500.9,1299.8 501.5,1298.9 502.1,1297.9 502.7,1297.0 503.3,1296.1 503.9,1295.2 504.5,1294.3 505.1,1293.4 505.7,1292.5 506.3,1291.6 506.9,1290.6 507.5,1289.7 508.1,1288.8 508.7,1287.9 509.3,1287.0 509.9,1286.1 510.5,1285.2 511.1,1284.3 511.7,1283.4 512.3,1282.5 513.0,1281.7 513.6,1280.8 514.2,1279.9 514.8,1279.0 515.4,1278.1 516.0,1277.2 516.6,1276.3 517.2,1275.4 517.8,1274.6 518.4,1273.7 519.0,1272.8 519.6,1271.9 520.2,1271.0 520.8,1270.2 521.4,1269.3 522.0,1268.4 522.6,1267.6 523.2,1266.7 523.8,1265.8 524.4,1264.9 525.0,1264.1 525.6,1263.2 526.2,1262.4 526.8,1261.5 527.4,1260.6 528.0,1259.8 528.6,1258.9 529.2,1258.1 529.8,1257.2 530.4,1256.3 531.0,1255.5 531.6,1254.6 532.2,1253.8 532.8,1252.9 533.4,1252.1 534.0,1251.2 534.6,1250.4 535.2,1249.6 535.8,1248.7 536.5,1247.9 537.1,1247.0 537.7,1246.2 538.3,1245.4 538.9,1244.5 539.5,1243.7 540.1,1242.9 540.7,1242.0 541.3,1241.2 541.9,1240.4 542.5,1239.5 543.1,1238.7 543.7,1237.9 544.3,1237.1 544.9,1236.2 545.5,1235.4 546.1,1234.6 546.7,1233.8 547.3,1232.9 547.9,1232.1 548.5,1231.3 549.1,1230.5 549.7,1229.7 550.3,1228.9 550.9,1228.1 551.5,1227.2 552.1,1226.4 552.7,1225.6 553.3,1224.8 553.9,1224.0 554.5,1223.2 555.1,1222.4 555.7,1221.6 556.3,1220.8 556.9,1220.0 557.5,1219.2 558.1,1218.4 558.7,1217.6 559.4,1216.8 560.0,1216.0 560.6,1215.2 561.2,1214.4 561.8,1213.6 562.4,1212.9 563.0,1212.1 563.6,1211.3 564.2,1210.5 564.8,1209.7 565.4,1208.9 566.0,1208.1 566.6,1207.4 567.2,1206.6 567.8,1205.8 568.4,1205.0 569.0,1204.2 569.6,1203.5 570.2,1202.7 570.8,1201.9 571.4,1201.1 572.0,1200.4 572.6,1199.6 573.2,1198.8 573.8,1198.1 574.4,1197.3 575.0,1196.5 575.6,1195.8 576.2,1195.0 576.8,1194.2 577.4,1193.5 578.0,1192.7 578.6,1192.0 579.2,1191.2 579.8,1190.5 580.4,1189.7 581.0,1188.9 581.6,1188.2 582.2,1187.4 582.9,1186.7 583.5,1185.9 584.1,1185.2 584.7,1184.4 585.3,1183.7 585.9,1182.9 586.5,1182.2 587.1,1181.5 587.7,1180.7 588.3,1180.0 588.9,1179.2 589.5,1178.5 590.1,1177.7 590.7,1177.0 591.3,1176.3 591.9,1175.5 592.5,1174.8 593.1,1174.1 593.7,1173.3 594.3,1172.6 594.9,1171.9 595.5,1171.1 596.1,1170.4 596.7,1169.7 597.3,1169.0 597.9,1168.2 598.5,1167.5 599.1,1166.8 599.7,1166.1 600.3,1165.4 600.9,1164.6 601.5,1163.9 602.1,1163.2 602.7,1162.5 603.3,1161.8 603.9,1161.0 604.5,1160.3 605.1,1159.6 605.8,1158.9 606.4,1158.2 607.0,1157.5 607.6,1156.8 608.2,1156.1 608.8,1155.4 609.4,1154.7 610.0,1154.0 610.6,1153.3 611.2,1152.5 611.8,1151.8 612.4,1151.1 618.0,1144.7 623.5,1138.3 629.1,1132.1 634.7,1125.8 640.3,1119.7 645.9,1113.7 651.5,1107.7 657.0,1101.8 662.6,1096.0 668.2,1090.2 673.8,1084.6 679.4,1078.9 685.0,1073.4 690.5,1067.9 696.1,1062.5 701.7,1057.2 707.3,1051.9 712.9,1046.7 718.4,1041.5 724.0,1036.4 729.6,1031.4 735.2,1026.4 740.8,1021.5 746.4,1016.6 751.9,1011.8 757.5,1007.0 763.1,1002.3 768.7,997.7 774.3,993.1 779.9,988.6 785.4,984.1 791.0,979.6 796.6,975.2 802.2,970.9 807.8,966.6 813.4,962.3 818.9,958.1 824.5,954.0 830.1,949.9 835.7,945.8 841.3,941.8 846.8,937.8 852.4,933.8 858.0,929.9 863.6,926.1 869.2,922.3 874.8,918.5 880.3,914.7 885.9,911.0 891.5,907.4 897.1,903.8 902.7,900.2 908.3,896.6 913.8,893.1 919.4,889.6 925.0,886.2 930.6,882.7 936.2,879.4 941.8,876.0 947.3,872.7 952.9,869.4 958.5,866.2 964.1,863.0 969.7,859.8 975.2,856.6 980.8,853.5 986.4,850.4 992.0,847.3 997.6,844.3 1003.2,841.3 1008.7,838.3 1014.3,835.3 1019.9,832.4 1025.5,829.5 1031.1,826.6 1036.7,823.8 1042.2,821.0 1047.8,818.2 1053.4,815.4 1059.0,812.6 1064.6,809.9 1070.2,807.2 1075.7,804.5 1081.3,801.9 1086.9,799.3 1092.5,796.7 1098.1,794.1 1103.7,791.5 1109.2,789.0 1114.8,786.5 1120.4,784.0 1126.0,781.5 1131.6,779.1 1137.1,776.6 1142.7,774.2 1148.3,771.8 1153.9,769.5 1159.5,767.1 1165.1,764.8 1170.6,762.5 1176.2,760.2 1181.8,757.9 1187.4,755.7 1193.0,753.4 1198.6,751.2 1204.1,749.0 1209.7,746.9 1215.3,744.7 1220.9,742.5 1226.5,740.4 1232.1,738.3 1237.6,736.2 1243.2,734.1 1248.8,732.1 1254.4,730.0 1260.0,728.0 1265.5,726.0 1271.1,724.0 1276.7,722.0 1282.3,720.0 1287.9,718.1 1293.5,716.2 1299.0,714.2 1304.6,712.3 1310.2,710.4 1315.8,708.6 1321.4,706.7 1327.0,704.8 1332.5,703.0 1338.1,701.2 1343.7,699.4 1349.3,697.6 1354.9,695.8 1360.5,694.0 1366.0,692.3 1371.6,690.5 1377.2,688.8 1382.8,687.1 1388.4,685.4 1393.9,683.7 1399.5,682.0 1405.1,680.3 1410.7,678.7 1416.3,677.0 1421.9,675.4 1427.4,673.8 1433.0,672.2 1438.6,670.6 1444.2,669.0 1449.8,667.4 1455.4,665.8 1460.9,664.3 1466.5,662.7 1472.1,661.2 1477.7,659.7 1483.3,658.2 1488.9,656.6 1494.4,655.2 1500.0,653.7 1505.6,652.2 1511.2,650.7 1516.8,649.3 1522.3,647.8 1527.9,646.4 1533.5,645.0 1539.1,643.6 1544.7,642.2 1550.3,640.8 1555.8,639.4 1561.4,638.0 1567.0,636.6 1572.6,635.3 1578.2,633.9 1583.8,632.6 1589.3,631.2 1594.9,629.9 1600.5,628.6 1606.1,627.3 1611.7,626.0 1617.3,624.7 1622.8,623.4 1628.4,622.1 1634.0,620.9 1639.6,619.6 1645.2,618.4 1650.7,617.1 1656.3,615.9 1661.9,614.6 1667.5,613.4 1673.1,612.2 1678.7,611.0 1684.2,609.8 1689.8,608.6 1695.4,607.4 1701.0,606.2 1706.6,605.1 1712.2,603.9 1717.7,602.8 1723.3,601.6 1728.9,600.5 1734.5,599.3 1740.1,598.2 1745.7,597.1 1751.2,596.0 1756.8,594.9 1762.4,593.8 1768.0,592.7 1773.6,591.6 1779.1,590.5 1784.7,589.4 1790.3,588.3 1795.9,587.3 1801.5,586.2 1807.1,585.2 1812.6,584.1 1818.2,583.1 1823.8,582.0 1829.4,581.0 1835.0,580.0 1840.6,579.0 1846.1,578.0 1851.7,577.0 1857.3,576.0 1862.9,575.0 1868.5,574.0 1874.1,573.0 1879.6,572.0 1885.2,571.0 1890.8,570.1 1896.4,569.1 1902.0,568.1 1907.5,567.2 1913.1,566.3 1918.7,565.3 1924.3,564.4 1929.9,563.4 1935.5,562.5 1941.0,561.6 1946.6,560.7 1952.2,559.8 1957.8,558.9 1963.4,558.0 1969.0,557.1 1974.5,556.2 1980.1,555.3 1985.7,554.4 1991.3,553.5 1996.9,552.7 2002.5,551.8 2008.0,550.9 2013.6,550.1 2019.2,549.2 2024.8,548.4 2030.4,547.5 2035.9,546.7 2041.5,545.8 2047.1,545.0 2052.7,544.2 2058.3,543.3 2063.9,542.5 2069.4,541.7 2075.0,540.9 2080.6,540.1 2086.2,539.3 2091.8,538.5 2097.4,537.7 2102.9,536.9 2108.5,536.1 2114.1,535.3 2119.7,534.5 2125.3,533.8 2130.9,533.0 2136.4,532.2 2142.0,531.5 2147.6,530.7 2153.2,529.9 2158.8,529.2 2164.3,528.4 2169.9,527.7 2175.5,526.9 2181.1,526.2 2186.7,525.5 2192.3,524.7 2197.8,524.0 2203.4,523.3 2209.0,522.6 2214.6,521.8 2220.2,521.1 2225.8,520.4 2231.3,519.7 2236.9,519.0 2242.5,518.3 2248.1,517.6 2253.7,516.9 2259.3,516.2 2264.8,515.5 2270.4,514.8 2276.0,514.2 2281.6,513.5"/>
</g>
<path fill="#000" d="M406.1 1390.1h52.8v52.8h-52.8ZM438.1 1332.4h52.8v52.8h-52.8ZM471.1 1263.1h52.8v52.8h-52.8ZM600.6 1091.0h52.8v52.8h-52.8ZM793.0 915.4h52.8v52.8h-52.8ZM1046.1 840.0h52.8v52.8h-52.8ZM1661.5 541.0h52.8v52.8h-52.8ZM2253.8 500.8h52.8v52.8h-52.8ZM420.3 1390.0a29.7 29.7 0 1 1 59.4 0a29.7 29.7 0 1 1 -59.4 0ZM439.5 1227.5a29.7 29.7 0 1 1 59.4 0a29.7 29.7 0 1 1 -59.4 0ZM463.2 995.0a29.7 29.7 0 1 1 59.4 0a29.7 29.7 0 1 1 -59.4 0ZM524.3 665.1a29.7 29.7 0 1 1 59.4 0a29.7 29.7 0 1 1 -59.4 0ZM644.4 577.2a29.7 29.7 0 1 1 59.4 0a29.7 29.7 0 1 1 -59.4 0ZM883.2 368.4a29.7 29.7 0 1 1 59.4 0a29.7 29.7 0 1 1 -59.4 0ZM1351.0 359.9a29.7 29.7 0 1 1 59.4 0a29.7 29.7 0 1 1 -59.4 0ZM432.5 1374.3L468.2 1436.1L396.8 1436.1ZM449.4 1180.5L485.1 1242.3L413.7 1242.3ZM469.0 762.9L504.7 824.7L433.3 824.7ZM492.0 614.5L527.7 676.3L456.3 676.3ZM552.3 332.0L588.0 393.8L516.6 393.8ZM671.4 264.6L707.1 326.4L635.7 326.4ZM907.8 269.5L943.5 331.3L872.1 331.3ZM432.4 1457.7L396.7 1395.9L468.1 1395.9ZM444.7 1304.1L409.0 1242.3L480.4 1242.3ZM456.0 1097.2L420.3 1035.4L491.7 1035.4ZM492.0 448.9L456.3 387.1L527.7 387.1ZM554.0 307.9L518.3 246.1L589.7 246.1ZM673.7 283.5L638.0 221.7L709.4 221.7ZM911.1 257.0L875.4 195.2L946.8 195.2Z"/>
</g>
<rect x="402" y="48" width="1904" height="1440" fill="none" stroke="#000" stroke-width="5.8"/>
<g stroke="#000" stroke-width="5.8">
<line x1="432.0" y1="1488" x2="432.0" y2="1519.6"/>
<line x1="582.7" y1="1488" x2="582.7" y2="1504.3"/>
<line x1="733.3" y1="1488" x2="733.3" y2="1519.6"/>
<line x1="884.0" y1="1488" x2="884.0" y2="1504.3"/>
<line x1="1034.6" y1="1488" x2="1034.6" y2="1519.6"/>
<line x1="1185.3" y1="1488" x2="1185.3" y2="1504.3"/>
<line x1="1336.0" y1="1488" x2="1336.0" y2="1519.6"/>
<line x1="1486.6" y1="1488" x2="1486.6" y2="1504.3"/>
<line x1="1637.3" y1="1488" x2="1637.3" y2="1519.6"/>
<line x1="1787.9" y1="1488" x2="1787.9" y2="1504.3"/>
<line x1="1938.6" y1="1488" x2="1938.6" y2="1519.6"/>
<line x1="2089.2" y1="1488" x2="2089.2" y2="1504.3"/>
<line x1="2239.9" y1="1488" x2="2239.9" y2="1519.6"/>
</g>
<g stroke="#000" stroke-width="5">
<line x1="402.0" y1="1416.7" x2="371.0" y2="1416.7"/>
<line x1="402.0" y1="1272.7" x2="386.0" y2="1272.7"/>
<line x1="402.0" y1="1128.7" x2="371.0" y2="1128.7"/>
<line x1="402.0" y1="984.6" x2="386.0" y2="984.6"/>
<line x1="402.0" y1="840.6" x2="371.0" y2="840.6"/>
<line x1="402.0" y1="696.6" x2="386.0" y2="696.6"/>
<line x1="402.0" y1="552.5" x2="371.0" y2="552.5"/>
<line x1="402.0" y1="408.5" x2="386.0" y2="408.5"/>
<line x1="402.0" y1="264.5" x2="371.0" y2="264.5"/>
<line x1="402.0" y1="120.5" x2="386.0" y2="120.5"/>
</g>
<text transform="translate(432.0 1602) scale(1 1.035)" font-size="83" text-anchor="middle">0</text>
<text transform="translate(733.3 1602) scale(1 1.035)" font-size="83" text-anchor="middle">50</text>
<text transform="translate(1034.6 1602) scale(1 1.035)" font-size="83" text-anchor="middle">100</text>
<text transform="translate(1336.0 1602) scale(1 1.035)" font-size="83" text-anchor="middle">150</text>
<text transform="translate(1637.3 1602) scale(1 1.035)" font-size="83" text-anchor="middle">200</text>
<text transform="translate(1938.6 1602) scale(1 1.035)" font-size="83" text-anchor="middle">250</text>
<text transform="translate(2239.9 1602) scale(1 1.035)" font-size="83" text-anchor="middle">300</text>
<text transform="translate(352.5 1439.3) scale(1 1.035)" font-size="83" text-anchor="end">0.00</text>
<text transform="translate(352.5 1151.2) scale(1 1.035)" font-size="83" text-anchor="end">0.04</text>
<text transform="translate(352.5 863.2) scale(1 1.035)" font-size="83" text-anchor="end">0.08</text>
<text transform="translate(352.5 575.1) scale(1 1.035)" font-size="83" text-anchor="end">0.12</text>
<text transform="translate(352.5 287.1) scale(1 1.035)" font-size="83" text-anchor="end">0.16</text>
<text transform="translate(1355 1748.4) scale(1 1.02)" font-size="90" text-anchor="middle">[Peptide] (<tspan font-family="Liberation Serif, serif">&#956;</tspan>M)</text>
<text transform="translate(132.3 826.5) rotate(-90) scale(1 1.015)" font-size="90" text-anchor="middle">Chemical shift perturbation (ppm)</text>
<path fill="#000" d="M1616.1 933.9h52.8v52.8h-52.8ZM1613.0 1069.9a29.7 29.7 0 1 1 59.4 0a29.7 29.7 0 1 1 -59.4 0ZM1643.0 1138.3L1678.7 1200.1L1607.3 1200.1ZM1643.0 1330.3L1607.3 1268.5L1678.7 1268.5Z"/>
<text transform="translate(1767.5 990.3) scale(1 1.037)" font-size="90">H3K4me0</text>
<text transform="translate(1767.5 1099.6) scale(1 1.037)" font-size="90">H3K4me1</text>
<text transform="translate(1767.5 1210) scale(1 1.037)" font-size="90">H3K4me2</text>
<text transform="translate(1767.5 1319.6) scale(1 1.037)" font-size="90">H3K4me3</text>
</svg></body></html>
